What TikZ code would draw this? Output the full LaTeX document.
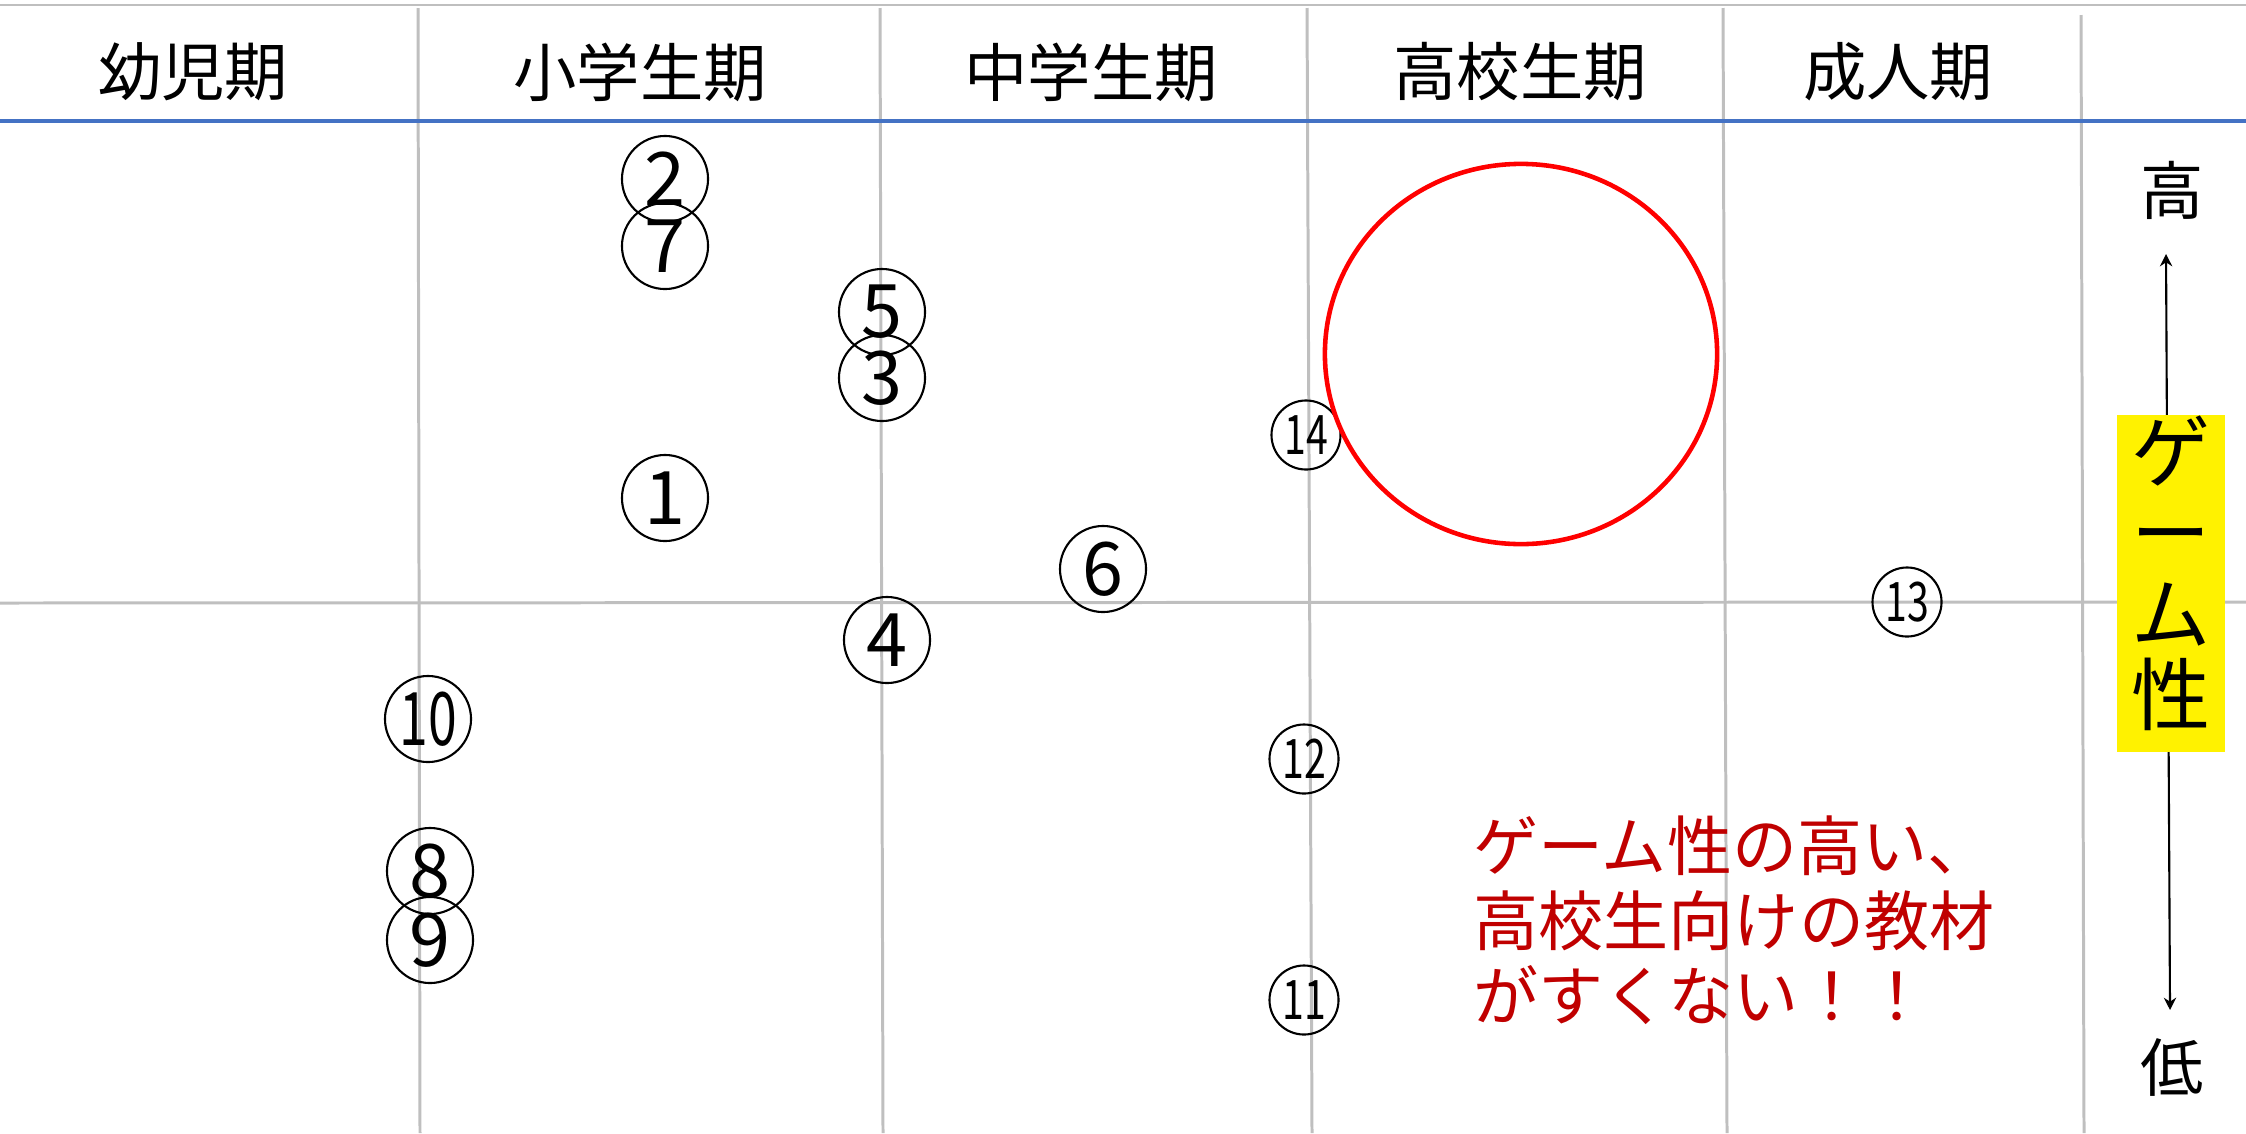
\documentclass[tikz,border=0pt]{standalone}
\usepackage{fontspec}
\usepackage{graphicx}
\setmainfont{Noto Sans CJK JP}
\usetikzlibrary{arrows.meta}
\definecolor{gridgray}{HTML}{BFBFBF}
\definecolor{hdrblue}{HTML}{4472C4}
\definecolor{darkred}{HTML}{C00000}
\begin{document}
\begin{tikzpicture}[x=0.01cm,y=-0.01cm,
  gridline/.style={draw=gridgray, line width=0.85pt},
  header/.style={inner sep=0pt, font=\fontsize{18}{18}\selectfont},
  bignum/.style={circle, draw, line width=0.6pt, minimum size=0.86cm, inner sep=0pt, font=\fontsize{21}{21}\selectfont},
  smallnum/.style={circle, draw, line width=0.6pt, minimum size=0.69cm, inner sep=0pt, font=\fontsize{15.5}{15.5}\selectfont},
  axislabel/.style={inner sep=0pt, font=\fontsize{18}{18}\selectfont}]
\useasboundingbox (0,0) rectangle (2246,1133);
% grid
\draw[gridline] (0,5) -- (2246,5);
\draw[gridline] (0,603) -- (2246,602);
\draw[gridline] (418,8) -- (420,1133);
\draw[gridline] (880,8) -- (883,1133);
\draw[gridline] (1307,8) -- (1312,1133);
\draw[gridline] (1723,8) -- (1727,1133);
\draw[gridline] (2081,15) -- (2084,1133);
\draw[draw=hdrblue, line width=1.1pt] (0,121) -- (2246,121);
% headers
\node[header] (h1) at (193,72) {幼児期};
\node[header] (h2) at (640,72) {小学生期};
\node[header] (h3) at (1091,72) {中学生期};
\node[header] (h4) at (1520,72) {高校生期};
\node[header] (h5) at (1898,72) {成人期};
% circled numbers
\node[bignum] (c2) at (665,179) {2};
\node[bignum] (c7) at (665,246) {7};
\node[bignum] (c5) at (882,312) {5};
\node[bignum] (c3) at (882,378) {3};
\node[bignum] (c1) at (665,498) {1};
\node[bignum] (c6) at (1103,569) {6};
\node[bignum] (c4) at (887,640) {4};
\node[bignum] (c10) at (428,719) {\scalebox{0.7}[1]{10}};
\node[bignum] (c8) at (430,871) {8};
\node[bignum] (c9) at (430,940) {9};
\node[smallnum] (c14) at (1306,435) {\scalebox{0.72}[1]{14}};
\node[smallnum] (c13) at (1907,602) {\scalebox{0.72}[1]{13}};
\node[smallnum] (c12) at (1304,759) {\scalebox{0.72}[1]{12}};
\node[smallnum] (c11) at (1304,1000) {\scalebox{0.72}[1]{11}};
% red circle
\draw[red, line width=1.3pt] (1521,354) ellipse [x radius=1.96cm, y radius=1.90cm];
% axis
\node[axislabel] (hi) at (2172,190) {高};
\node[axislabel] (lo) at (2172,1067) {低};
\coordinate (atop) at (2166,254);
\coordinate (abot) at (2170,1010);
\draw[line width=0.6pt, {Stealth[length=3.5pt,width=3.5pt]}-{Stealth[length=3.5pt,width=3.5pt]}] (atop) -- (abot);
\fill[yellow] (2117,415) rectangle (2225,752);
\node[inner sep=0pt, align=center, font=\fontsize{22.5}{23}\selectfont] (game) at (2171,573) {ゲ\\ー\\ム\\性};
% red note
\node[inner sep=0pt, anchor=west, align=left, text=darkred, font=\fontsize{18.5}{21.4}\selectfont] (note) at (1473,920) {ゲーム性の高い、\\高校生向けの教材\\がすくない！！};
\end{tikzpicture}
\end{document}
